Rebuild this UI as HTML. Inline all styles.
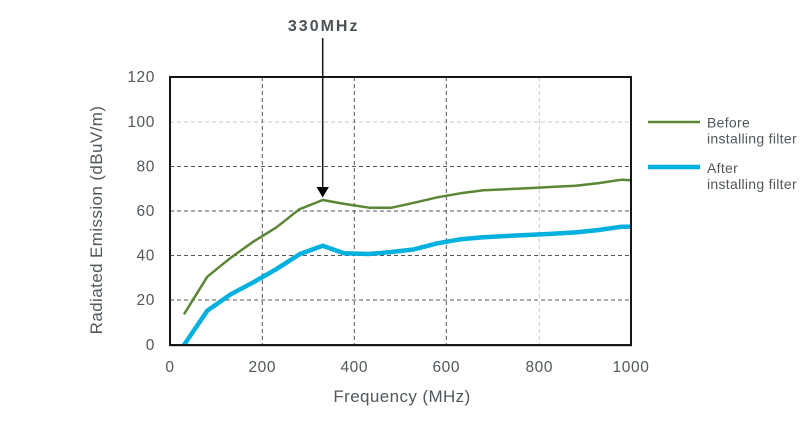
<!DOCTYPE html>
<html><head><meta charset="utf-8"><style>
html,body{margin:0;padding:0;background:#fff;}
svg{display:block;}
text{font-family:"Liberation Sans","DejaVu Sans",sans-serif;fill:#50585c;}
</style></head><body>
<svg width="801" height="421" viewBox="0 0 801 421" xmlns="http://www.w3.org/2000/svg">
<rect width="801" height="421" fill="#fff"/>
<!-- grid -->
<g stroke-width="1" fill="none">
<line x1="170" y1="122" x2="631" y2="122" stroke="#c8c8c8" stroke-dasharray="4,3"/>
<line x1="170" y1="166.5" x2="631" y2="166.5" stroke="#555" stroke-dasharray="4,3"/>
<line x1="170" y1="211" x2="631" y2="211" stroke="#555" stroke-dasharray="4,3"/>
<line x1="170" y1="255.5" x2="631" y2="255.5" stroke="#555" stroke-dasharray="4,3"/>
<line x1="170" y1="300" x2="631" y2="300" stroke="#555" stroke-dasharray="4,3"/>
<line x1="262.3" y1="77" x2="262.3" y2="345" stroke="#555" stroke-dasharray="4,3"/>
<line x1="354.3" y1="77" x2="354.3" y2="345" stroke="#555" stroke-dasharray="4,3"/>
<line x1="446.3" y1="77" x2="446.3" y2="345" stroke="#555" stroke-dasharray="4,3"/>
<line x1="539.3" y1="77" x2="539.3" y2="345" stroke="#c8c8c8" stroke-dasharray="4,3"/>
</g>
<!-- series -->
<polyline fill="none" stroke="#5a8636" stroke-width="2.5" stroke-linejoin="round" points="184,314.3 207.3,276.7 230,258.3 253.3,241.7 276,227.7 299.3,209.3 322.7,200 345,204 369.3,207.7 391.7,207.7 414.3,202.7 437.4,197.3 460.4,193.3 483.5,190.3 506.5,189.2 529.6,188.1 552.6,186.9 575.7,185.7 598.7,183.1 621.8,179.7 631,180.2"/>
<polyline fill="none" stroke="#00b0de" stroke-width="4.5" stroke-linejoin="round" points="184,345 207.3,310.7 230.7,294.3 253.3,282.3 276,269.3 300,254 322.7,245.7 344,253.3 368.3,254 391.7,252 414.3,249.3 437.4,243.3 460.4,239.3 483.5,237.3 506.5,236 529.6,234.9 552.6,233.8 575.7,232.4 598.7,230 621.8,226.7 631,226.7"/>
<!-- frame -->
<line x1="170" y1="346" x2="632" y2="346" stroke="#bbb" stroke-width="1.5"/>
<rect x="170" y="77" width="461" height="268" fill="none" stroke="#151515" stroke-width="2"/>
<!-- arrow -->
<line x1="322.7" y1="38" x2="322.7" y2="188" stroke="#151515" stroke-width="1.5"/>
<polygon points="316.5,187 328.9,187 322.7,197.5" fill="#000"/>
<text x="323.7" y="31" text-anchor="middle" font-size="16" font-weight="bold" letter-spacing="2" style="fill:#4a5256">330MHz</text>
<!-- y ticks -->
<g font-size="15.5" text-anchor="end" letter-spacing="0.6">
<text x="155" y="82">120</text>
<text x="155" y="127">100</text>
<text x="155" y="171.5">80</text>
<text x="155" y="216">60</text>
<text x="155" y="260.5">40</text>
<text x="155" y="305">20</text>
<text x="155" y="350">0</text>
</g>
<g font-size="15.5" text-anchor="middle" letter-spacing="0.6">
<text x="170" y="372">0</text>
<text x="262.3" y="372">200</text>
<text x="354.3" y="372">400</text>
<text x="446.3" y="372">600</text>
<text x="539.3" y="372">800</text>
<text x="631" y="372">1000</text>
</g>
<text x="402" y="402" font-size="17" letter-spacing="0.4" text-anchor="middle">Frequency (MHz)</text>
<text transform="translate(102,220) rotate(-90)" font-size="17" letter-spacing="0.4" text-anchor="middle">Radiated Emission (dBuV/m)</text>
<!-- legend -->
<line x1="648" y1="122" x2="700" y2="122" stroke="#5a8636" stroke-width="2.5"/>
<line x1="648" y1="167" x2="700" y2="167" stroke="#00b0de" stroke-width="4.5"/>
<g font-size="14" letter-spacing="0.3">
<text x="707" y="127.5">Before</text>
<text x="707" y="143.5">installing filter</text>
<text x="707" y="173">After</text>
<text x="707" y="189">installing filter</text>
</g>
</svg>
</body></html>
